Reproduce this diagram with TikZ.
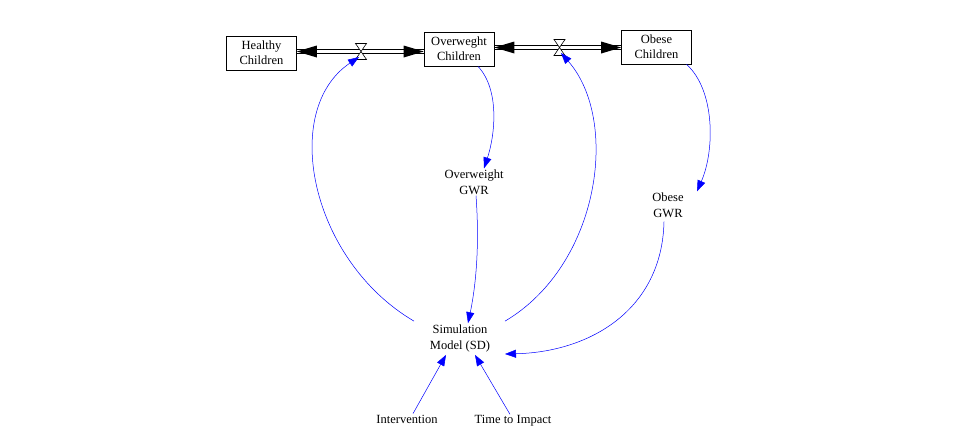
\documentclass[tikz,border=0pt]{standalone}
\usepackage{fontspec}
\setmainfont{Liberation Serif}
\usetikzlibrary{arrows.meta,calc}
\tikzset{
  stock/.style={draw, line width=0.7pt, minimum width=70pt, minimum height=34pt, inner sep=1pt, align=center, font=\fontsize{12.5}{15}\selectfont},
  lbl/.style={inner sep=1pt, align=center, font=\fontsize{12.5}{16}\selectfont},
  pipeline/.style={draw, line width=0.8pt},
  pipetip/.style={fill=black},
  valve/.style={draw, fill=white, line width=0.6pt},
  link/.style={draw=blue, line width=0.5pt, arrows={-{Triangle[length=11pt,width=8pt,fill=blue]}}}
}
\begin{document}
\begin{tikzpicture}[x=1pt,y=-1pt]
\useasboundingbox (0,0) rectangle (957,440);
% stocks
\node[stock] (hc) at (261.5,53) {Healthy\\Children};
\node[stock] (ow) at (459,49) {Overweght\\Children};
\node[stock] (ob) at (656.5,47) {Obese\\Children};
% pipes
\coordinate (v1) at (361,51.5);
\coordinate (v2) at (559.5,47.5);
\coordinate (p1a) at (v1 -| hc.east);
\coordinate (p1b) at (v1 -| ow.west);
\coordinate (p2a) at (v2 -| ow.east);
\coordinate (p2b) at (v2 -| ob.west);
\foreach \a/\b in {p1a/p1b, p2a/p2b}{
  \draw[pipeline] ([yshift=2pt]\a) -- ([yshift=2pt]\b);
  \draw[pipeline] ([yshift=-2pt]\a) -- ([yshift=-2pt]\b);
  \fill[pipetip] (\a) -- ++(20,-6) -- ++(0,12) -- cycle;
  \fill[pipetip] (\b) -- ++(-20,-6) -- ++(0,12) -- cycle;
}
% valves
\draw[valve] (v1) ++(-5.5,-8) -- ++(11,0) -- ++(-11,16) -- ++(11,0) -- cycle;
\draw[valve] (v2) ++(-5.5,-8) -- ++(11,0) -- ++(-11,16) -- ++(11,0) -- cycle;
\coordinate (v1b) at (359,57);
\coordinate (v2b) at (561,53);
% auxiliaries
\node[lbl] (ogwr) at (474,182) {Overweight\\GWR};
\node[lbl] (bgwr) at (668,205) {Obese\\GWR};
\node[lbl] (sim) at (460,338) {Simulation\\Model (SD)};
\node[lbl] (int) at (407,419) {Intervention};
\node[lbl] (tti) at (513,421) {Time to Impact};
\coordinate (simr) at (505,354);
% links
\draw[link] ([xshift=19pt]ow.south) .. controls (500,90) and (495,135) .. ([xshift=10pt]ogwr.north);
\draw[link] ([xshift=30pt]ob.south) .. controls (715,90) and (715,150) .. ([xshift=29pt]bgwr.north);
\draw[link] ([xshift=2pt]ogwr.south) .. controls (480,250) and (475,290) .. ([xshift=8pt]sim.north);
\draw[link] ([xshift=-4pt,yshift=-3pt]bgwr.south) .. controls (662,310) and (590,352) .. (simr);
\draw[link] ([xshift=-46pt,yshift=2pt]sim.north) .. controls (310,260) and (280,110) .. (v1b);
\draw[link] ([xshift=45pt,yshift=2pt]sim.north) .. controls (600,265) and (620,120) .. (v2b);
\draw[link] ([xshift=6pt]int.north) -- ([xshift=-14pt,yshift=-2pt]sim.south);
\draw[link] ([xshift=-3pt]tti.north) -- ([xshift=15pt,yshift=-2pt]sim.south);
\end{tikzpicture}
\end{document}
